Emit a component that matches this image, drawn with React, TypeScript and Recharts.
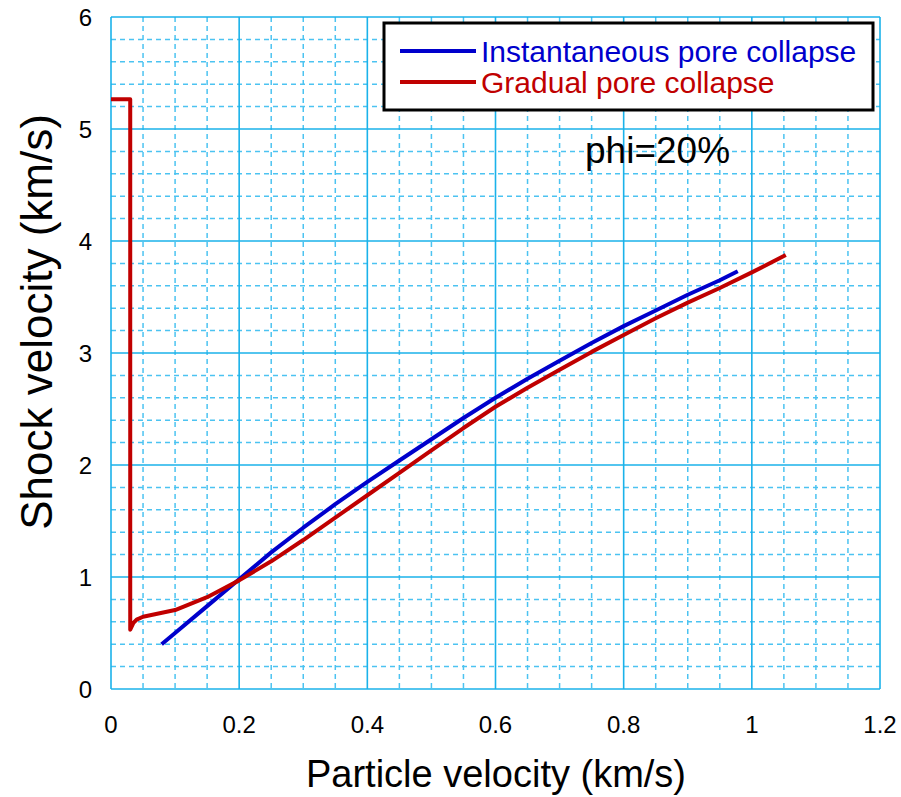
import React from 'react';
import { LineChart, Line, XAxis, YAxis, CartesianGrid } from 'recharts';

// instantaneous pore collapse (blue)
const instX = [0.079, 0.1, 0.15, 0.2, 0.25, 0.3, 0.35, 0.4, 0.45, 0.5, 0.55, 0.6, 0.65, 0.7, 0.75, 0.8, 0.85, 0.9, 0.95, 0.978];
const instY = [0.4, 0.5, 0.74, 0.98, 1.22, 1.44, 1.65, 1.85, 2.04, 2.23, 2.42, 2.6, 2.77, 2.93, 3.09, 3.24, 3.38, 3.52, 3.65, 3.73];

// gradual pore collapse (red)
const gradX = [0, 0.03, 0.03, 0.035, 0.04, 0.05, 0.1, 0.15, 0.2, 0.25, 0.3, 0.35, 0.4, 0.45, 0.5, 0.55, 0.6, 0.65, 0.7, 0.75, 0.8, 0.85, 0.9, 0.95, 1.0, 1.053];
const gradY = [5.265, 5.265, 0.53, 0.59, 0.62, 0.645, 0.705, 0.82, 0.97, 1.14, 1.33, 1.53, 1.73, 1.93, 2.13, 2.33, 2.52, 2.69, 2.85, 3.01, 3.16, 3.31, 3.45, 3.58, 3.72, 3.875];

const xTicks = [0, 0.2, 0.4, 0.6, 0.8, 1, 1.2];
const yTicks = [0, 1, 2, 3, 4, 5, 6];
const xMinor = [0.05, 0.1, 0.15, 0.25, 0.3, 0.35, 0.45, 0.5, 0.55, 0.65, 0.7, 0.75, 0.85, 0.9, 0.95, 1.05, 1.1, 1.15];
const yMinor = [0.2, 0.4, 0.6, 0.8, 1.2, 1.4, 1.6, 1.8, 2.2, 2.4, 2.6, 2.8, 3.2, 3.4, 3.6, 3.8, 4.2, 4.4, 4.6, 4.8, 5.2, 5.4, 5.6, 5.8];

const series = [
  { name: 'Instantaneous pore collapse', color: '#0000cc', data: instX.map((x, i) => ({ x, y: instY[i] })) },
  { name: 'Gradual pore collapse', color: '#c00000', data: gradX.map((x, i) => ({ x, y: gradY[i] })) },
];

const X_MAX = 1.2;
const Y_MAX = 6;
const GRID = '#1ab2ea';
const FONT = 'Liberation Sans, Arial, sans-serif';

const vGen = (vals: number[]) => ({ offset }: any) => vals.map((v) => offset.left + (v / X_MAX) * offset.width);
const hGen = (vals: number[]) => ({ offset }: any) => vals.map((v) => offset.top + (1 - v / Y_MAX) * offset.height);

const App: React.FC = () => {
  return (
    <div style={{ position: 'absolute', left: 0, top: 0, width: 901, height: 797, background: '#fff' }}>
      <LineChart width={901} height={797} margin={{ top: 17, right: 21, bottom: 48, left: 51 }}>
        <CartesianGrid
          stroke="#4cc3f1"
          strokeDasharray="5 4"
          strokeWidth={1.5}
          verticalCoordinatesGenerator={vGen(xMinor)}
          horizontalCoordinatesGenerator={hGen(yMinor)}
        />
        <CartesianGrid
          stroke={GRID}
          strokeWidth={1.6}
          verticalCoordinatesGenerator={vGen(xTicks)}
          horizontalCoordinatesGenerator={hGen(yTicks)}
        />
        <XAxis
          type="number"
          dataKey="x"
          domain={[0, X_MAX]}
          ticks={xTicks}
          allowDataOverflow
          axisLine={false}
          tickLine={false}
          tickSize={0}
          tickMargin={27}
          height={60}
          tick={{ fill: '#000', fontSize: 24, fontFamily: FONT }}
        />
        <YAxis
          type="number"
          dataKey="y"
          domain={[0, Y_MAX]}
          ticks={yTicks}
          allowDataOverflow
          axisLine={false}
          tickLine={false}
          tickSize={0}
          tickMargin={19}
          width={60}
          tick={{ fill: '#000', fontSize: 24, fontFamily: FONT }}
        />
        {series.map((s) => (
          <Line
            key={s.name}
            data={s.data}
            dataKey="y"
            name={s.name}
            type="linear"
            stroke={s.color}
            strokeWidth={4}
            strokeLinejoin="round"
            dot={false}
            isAnimationActive={false}
          />
        ))}
      </LineChart>
      <svg width={901} height={797} style={{ position: 'absolute', left: 0, top: 0, pointerEvents: 'none' }} fontFamily={FONT}>
        <text x={496} y={787} textAnchor="middle" fontSize={38} fill="#000">Particle velocity (km/s)</text>
        <text transform="translate(52,322) rotate(-90)" textAnchor="middle" fontSize={44} fill="#000">Shock velocity (km/s)</text>
        <rect x={384} y={23} width={489} height={87} fill="#fff" stroke="#000" strokeWidth={3} />
        {series.map((s, i) => (
          <g key={s.name}>
            <line x1={400} x2={476} y1={51 + i * 31} y2={51 + i * 31} stroke={s.color} strokeWidth={4} />
            <text x={481} y={62 + i * 31} fontSize={30} fill={s.color}>{s.name}</text>
          </g>
        ))}
        <text x={585} y={163} fontSize={37} fill="#000">phi=20%</text>
      </svg>
    </div>
  );
};

export default App;
